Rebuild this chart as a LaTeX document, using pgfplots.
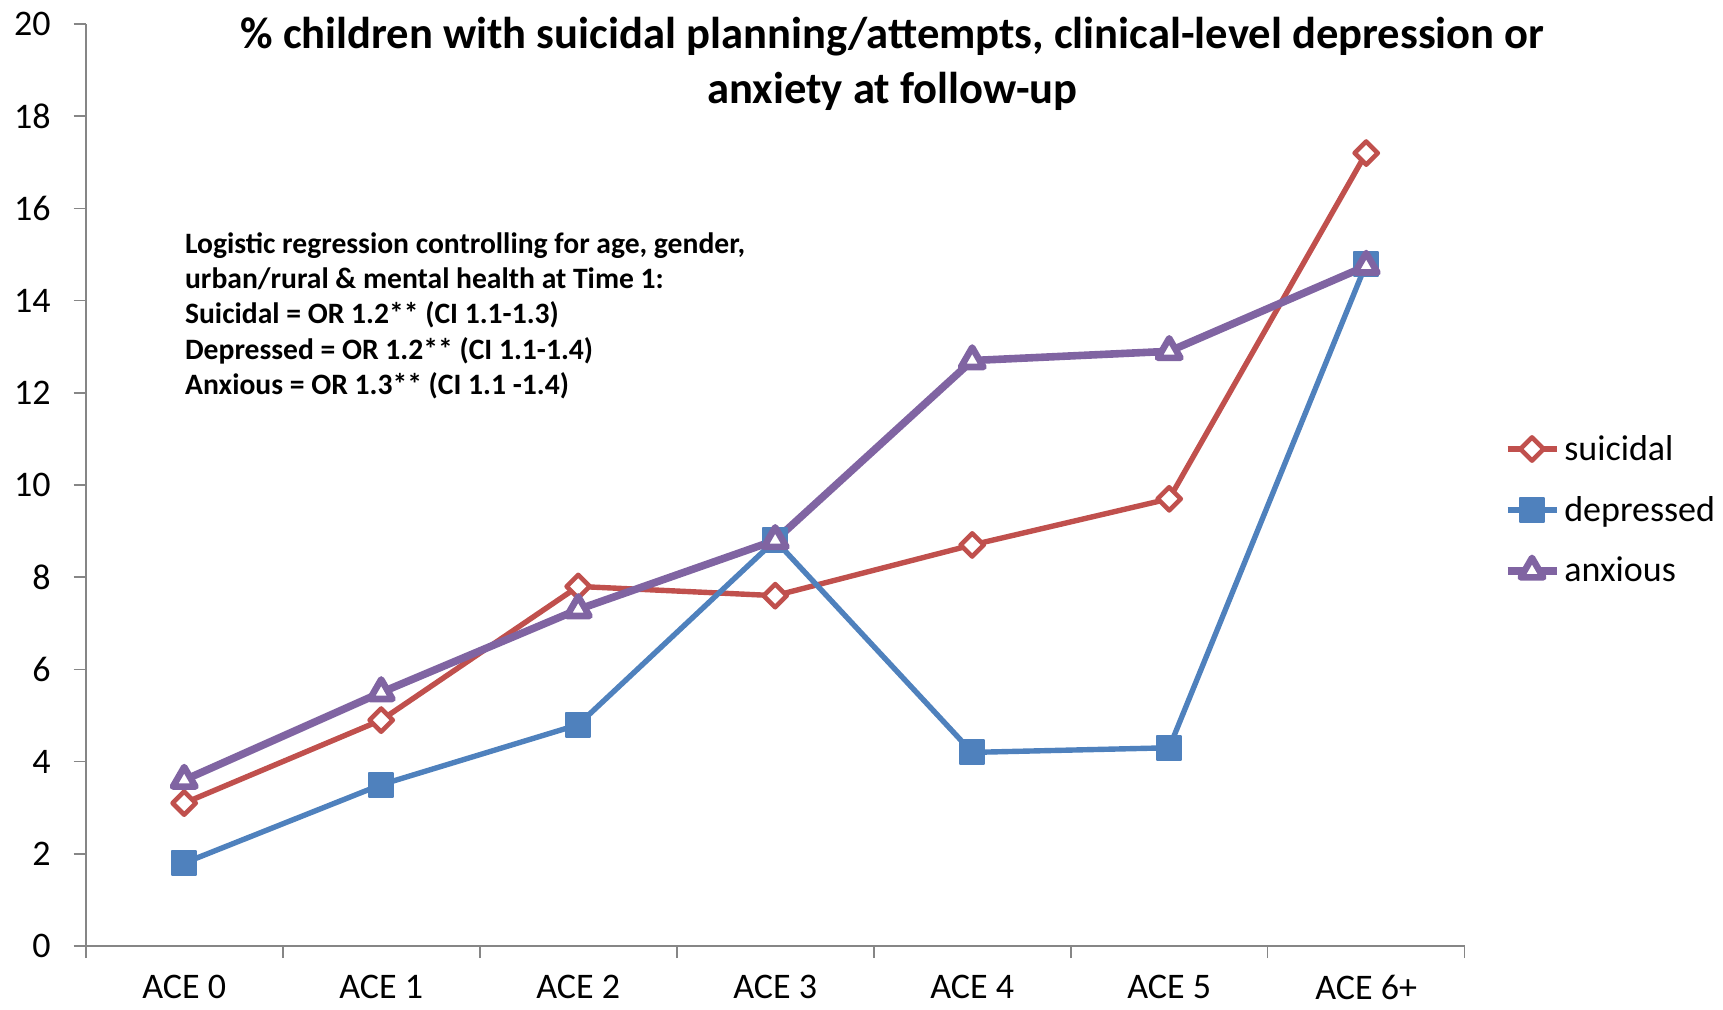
\documentclass[border=0pt]{standalone}
\usepackage{pgfplots}
\pgfplotsset{compat=1.18}
\usepackage{fontspec}
\setmainfont{Carlito}
\definecolor{cred}{HTML}{C0504D}
\definecolor{cblue}{HTML}{4F81BD}
\definecolor{cpurple}{HTML}{8064A2}
\definecolor{caxis}{HTML}{868686}
\begin{document}
\begin{tikzpicture}
\begin{axis}[
  at={(0,0)}, anchor=south west,
  scale only axis,
  width=689.5pt, height=461pt,
  xmin=0, xmax=7, ymin=0, ymax=20,
  axis x line*=bottom, axis y line*=left,
  axis line style={caxis, line width=0.8pt, -},
  xtick={0.5,1.5,...,6.5},
  xticklabels={ACE 0,ACE 1,ACE 2,ACE 3,ACE 4,ACE 5,ACE 6+},
  minor xtick={0,1,...,7},
  major x tick style={draw=none},
  minor x tick style={caxis, line width=0.8pt},
  ytick={0,2,...,20},
  y tick style={caxis, line width=0.8pt},
  tick align=outside,
  major tick length=6pt, minor tick length=6pt,
  ticklabel style={font=\fontsize{18}{21}\selectfont, text=black},
  xticklabel style={yshift=-7.5pt, inner sep=1pt},
  yticklabel style={xshift=-8pt},
  /pgf/number format/assume math mode=true,
  clip=false,
  legend style={draw=none, fill=none, at={(1.028,0.473)}, anchor=west,
    font=\fontsize{18}{21}\selectfont, row sep=12.5pt, inner sep=0pt},
  legend cell align=left,
  legend image code/.code={
    \draw[#1,mark repeat=2,mark phase=2] plot coordinates {(0pt,0pt) (12.25pt,0pt) (24.5pt,0pt)};
  },
]
\addplot[cred, line width=2.7pt, mark=square*, mark size=4.1pt,
  mark options={rotate=45, fill=white, draw=cred, line width=2.3pt, line join=round}]
  coordinates {(0.5,3.1) (1.5,4.9) (2.5,7.8) (3.5,7.6) (4.5,8.7) (5.5,9.7) (6.5,17.2)};
\addlegendentry{suicidal}
\addplot[cblue, line width=2.7pt, mark=square*, mark size=6pt,
  mark options={fill=cblue, draw=cblue, line width=1pt, line join=round}]
  coordinates {(0.5,1.8) (1.5,3.5) (2.5,4.8) (3.5,8.8) (4.5,4.2) (5.5,4.3) (6.5,14.8)};
\addlegendentry{depressed}
\addplot[cpurple, line width=3.8pt, mark=triangle*, mark size=6.5pt,
  mark options={fill=white, draw=cpurple, line width=3.3pt, line join=round}]
  coordinates {(0.5,3.6) (1.5,5.5) (2.5,7.3) (3.5,8.8) (4.5,12.7) (5.5,12.9) (6.5,14.75)};
\addlegendentry{anxious}
\node[align=center, font=\fontsize{22.3}{27.3}\selectfont\bfseries] at (rel axis cs:0.585,0.957)
  {\% children with suicidal planning/attempts, clinical-level depression or\\anxiety at follow-up};
\node[align=left, anchor=north west, inner sep=0pt, font=\fontsize{14.8}{17.6}\selectfont\bfseries]
  at (rel axis cs:0.0718,0.774)
  {Logistic regression controlling for age, gender,\\urban/rural \& mental health at Time 1:\\Suicidal = OR 1.2** (CI 1.1-1.3)\\Depressed = OR 1.2** (CI 1.1-1.4)\\Anxious = OR 1.3** (CI 1.1 -1.4)};
\end{axis}
\pgfresetboundingbox
\path[use as bounding box] (-42.85pt,-31.5pt) rectangle (818.65pt,473pt);
\end{tikzpicture}
\end{document}
